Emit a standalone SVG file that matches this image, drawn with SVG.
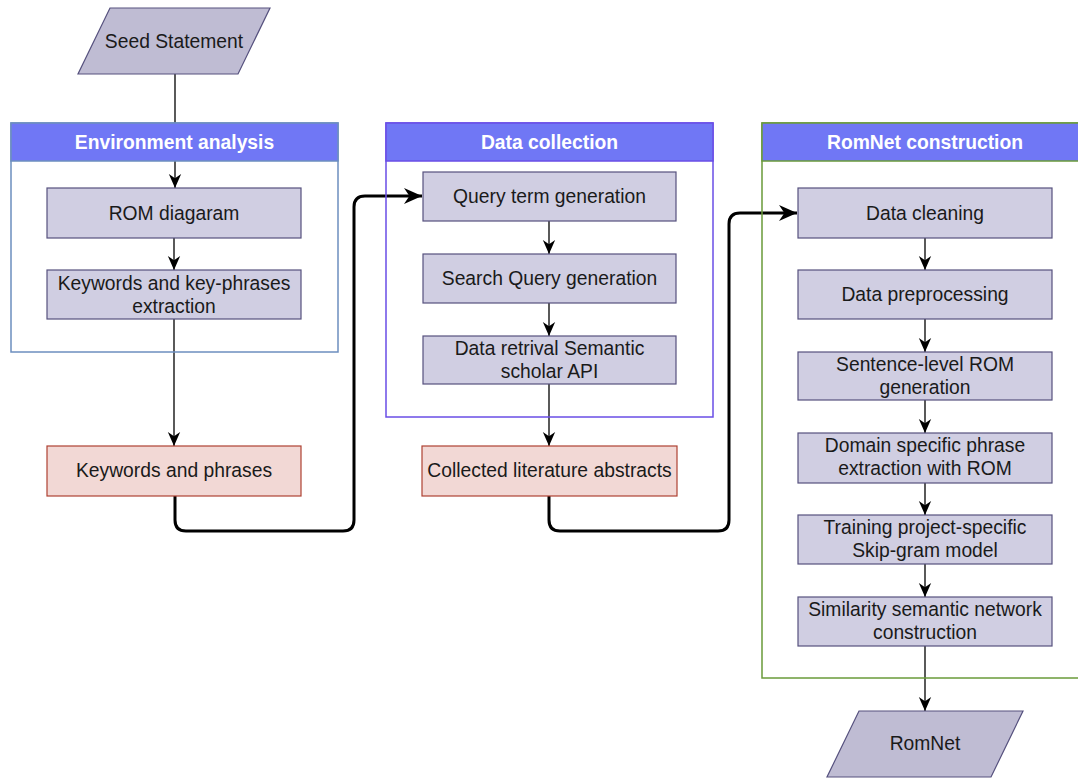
<svg xmlns="http://www.w3.org/2000/svg" width="1078" height="778" viewBox="0 0 1078 778">
  <style>
    .bg { fill: #ffffff; }
    .step { fill: #d0cee2; stroke: #56517e; stroke-width: 1.2; }
    .io { fill: #bfbcd3; stroke: #56517e; stroke-width: 1.2; }
    .out { fill: #f2d8d5; stroke: #ae4132; stroke-width: 1.2; }
    .hdr { fill: #7077f5; }
    .lane { fill: none; stroke-width: 1.5; }
    .lbl { font-family: "Liberation Sans", Arial, sans-serif; font-size: 19.3px; fill: #1a1a1a; text-anchor: middle; }
    .ttl { font-family: "Liberation Sans", Arial, sans-serif; font-size: 19.3px; font-weight: bold; fill: #ffffff; text-anchor: middle; }
    .flow { fill: none; stroke: #000000; stroke-width: 1.3; }
    .link { fill: none; stroke: #000000; stroke-width: 3; stroke-linejoin: round; }
  </style>
  <defs>
    <marker id="arrow" markerUnits="userSpaceOnUse" markerWidth="14" markerHeight="14" viewBox="0 0 10 10" refX="10" refY="5" orient="auto">
      <path d="M0,0.6 L10,5 L0,9.4 L3,5 Z" fill="#000000"/>
    </marker>
    <marker id="arrowBig" markerUnits="userSpaceOnUse" markerWidth="18" markerHeight="18" viewBox="0 0 10 10" refX="10" refY="5" orient="auto">
      <path d="M0,0.6 L10,5 L0,9.4 L3,5 Z" fill="#000000"/>
    </marker>
  </defs>

  <rect class="bg" x="0" y="0" width="1078" height="778"/>

  <!-- Connectors (drawn under the lane frames and headers) -->
  <g id="connectors">
    <line class="flow" x1="175" y1="74" x2="175" y2="188" marker-end="url(#arrow)"/>
    <line class="flow" x1="174" y1="238" x2="174" y2="270" marker-end="url(#arrow)"/>
    <line class="flow" x1="174" y1="319" x2="174" y2="446" marker-end="url(#arrow)"/>

    <line class="flow" x1="549" y1="221" x2="549" y2="254" marker-end="url(#arrow)"/>
    <line class="flow" x1="549" y1="303" x2="549" y2="336" marker-end="url(#arrow)"/>
    <line class="flow" x1="549" y1="384" x2="549" y2="446" marker-end="url(#arrow)"/>

    <line class="flow" x1="925" y1="238" x2="925" y2="270" marker-end="url(#arrow)"/>
    <line class="flow" x1="925" y1="319" x2="925" y2="352" marker-end="url(#arrow)"/>
    <line class="flow" x1="925" y1="400" x2="925" y2="433" marker-end="url(#arrow)"/>
    <line class="flow" x1="925" y1="483" x2="925" y2="515" marker-end="url(#arrow)"/>
    <line class="flow" x1="925" y1="564" x2="925" y2="597" marker-end="url(#arrow)"/>
    <line class="flow" x1="925" y1="646" x2="925" y2="711" marker-end="url(#arrow)"/>

    <path class="link" d="M175,496 V520 Q175,531 186,531 H343 Q354,531 354,520 V207 Q354,196 365,196 H422" marker-end="url(#arrowBig)"/>
    <path class="link" d="M549,496 V520 Q549,531 560,531 H718 Q729,531 729,520 V224 Q729,213 740,213 H797" marker-end="url(#arrowBig)"/>
  </g>

  <!-- Swimlane containers -->
  <g id="lane-environment">
    <rect class="lane" x="11" y="123" width="327" height="229" stroke="#6c8ebf"/>
    <rect class="hdr" x="11" y="123" width="327" height="38" stroke="#6c8ebf" stroke-width="1.5"/>
    <text class="ttl" x="174.5" y="149">Environment analysis</text>
  </g>
  <g id="lane-data-collection">
    <rect class="lane" x="386" y="123" width="327" height="294" stroke="#6a4ee6"/>
    <rect class="hdr" x="386" y="123" width="327" height="38" stroke="#6a4ee6" stroke-width="1.5"/>
    <text class="ttl" x="549.5" y="149">Data collection</text>
  </g>
  <g id="lane-romnet">
    <rect class="lane" x="762" y="123" width="330" height="555" stroke="#6a9b3a"/>
    <rect class="hdr" x="762" y="123" width="330" height="38" stroke="#6a9b3a" stroke-width="1.5"/>
    <text class="ttl" x="925" y="149">RomNet construction</text>
  </g>

  <!-- Input / output -->
  <g id="seed-statement">
    <polygon class="io" points="110,8 270,8 238,74 78,74"/>
    <text class="lbl" x="174" y="48">Seed Statement</text>
  </g>
  <g id="romnet">
    <polygon class="io" points="859,711 1023,711 991,777 827,777"/>
    <text class="lbl" x="925" y="750">RomNet</text>
  </g>

  <!-- Environment analysis steps -->
  <g id="rom-diagram">
    <rect class="step" x="47" y="188" width="254" height="50"/>
    <text class="lbl" x="174" y="220">ROM diagaram</text>
  </g>
  <g id="keyword-extraction">
    <rect class="step" x="47" y="270" width="254" height="49"/>
    <text class="lbl" x="174" y="290">Keywords and key-phrases</text>
    <text class="lbl" x="174" y="313">extraction</text>
  </g>
  <g id="keywords-phrases">
    <rect class="out" x="47" y="446" width="254" height="50"/>
    <text class="lbl" x="174" y="477">Keywords and phrases</text>
  </g>

  <!-- Data collection steps -->
  <g id="query-term">
    <rect class="step" x="423" y="172" width="253" height="49"/>
    <text class="lbl" x="549.5" y="203">Query term generation</text>
  </g>
  <g id="search-query">
    <rect class="step" x="423" y="254" width="253" height="49"/>
    <text class="lbl" x="549.5" y="285">Search Query generation</text>
  </g>
  <g id="data-retrieval">
    <rect class="step" x="423" y="336" width="253" height="48"/>
    <text class="lbl" x="549.5" y="355">Data retrival Semantic</text>
    <text class="lbl" x="549.5" y="378">scholar API</text>
  </g>
  <g id="collected-abstracts">
    <rect class="out" x="422" y="446" width="255" height="50"/>
    <text class="lbl" x="549.5" y="477">Collected literature abstracts</text>
  </g>

  <!-- RomNet construction steps -->
  <g id="data-cleaning">
    <rect class="step" x="798" y="188" width="254" height="50"/>
    <text class="lbl" x="925" y="220">Data cleaning</text>
  </g>
  <g id="data-preprocessing">
    <rect class="step" x="798" y="270" width="254" height="49"/>
    <text class="lbl" x="925" y="301">Data preprocessing</text>
  </g>
  <g id="sentence-rom">
    <rect class="step" x="798" y="352" width="254" height="48"/>
    <text class="lbl" x="925" y="371">Sentence-level ROM</text>
    <text class="lbl" x="925" y="394">generation</text>
  </g>
  <g id="phrase-extraction">
    <rect class="step" x="798" y="433" width="254" height="50"/>
    <text class="lbl" x="925" y="452">Domain specific phrase</text>
    <text class="lbl" x="925" y="475">extraction with ROM</text>
  </g>
  <g id="skipgram-training">
    <rect class="step" x="798" y="515" width="254" height="49"/>
    <text class="lbl" x="925" y="534">Training project-specific</text>
    <text class="lbl" x="925" y="557">Skip-gram model</text>
  </g>
  <g id="similarity-network">
    <rect class="step" x="798" y="597" width="254" height="49"/>
    <text class="lbl" x="925" y="616">Similarity semantic network</text>
    <text class="lbl" x="925" y="639">construction</text>
  </g>
</svg>
